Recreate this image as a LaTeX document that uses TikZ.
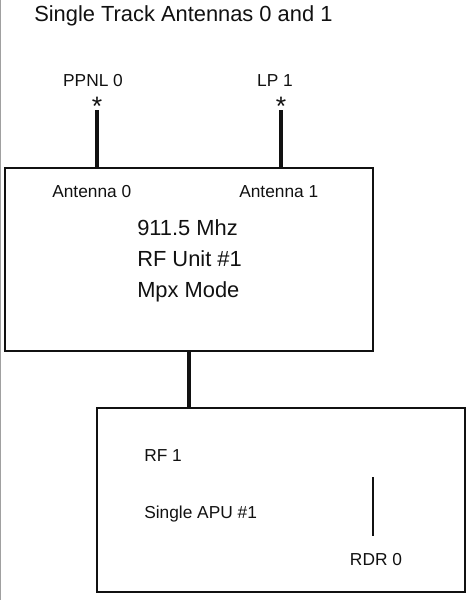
\documentclass[tikz,border=0pt]{standalone}
\usepackage{fontspec}
\setmainfont{Liberation Sans}
\usetikzlibrary{positioning,calc}
\definecolor{ink}{HTML}{111111}
\definecolor{edgegray}{HTML}{A0A0A0}
\newcommand{\titlesize}{\fontsize{16.4}{22.9}\selectfont}
\newcommand{\labelsize}{\fontsize{13}{16}\selectfont}
\newcommand{\starsize}{\fontsize{20}{24}\selectfont}
\tikzset{
  unitbox/.style={draw=ink,line width=1.5pt,inner sep=0pt,rectangle},
  bigtext/.style={font=\titlesize,text=ink,inner sep=0pt,align=left},
  smalltext/.style={font=\labelsize,text=ink,inner sep=0pt},
  starmark/.style={font=\starsize,text=ink,inner sep=0pt},
  antline/.style={draw=ink,line width=2.6pt},
  linkline/.style={draw=ink,line width=2.6pt},
  rdrline/.style={draw=ink,line width=2.2pt}
}
\begin{document}
\begin{tikzpicture}[x=0.75pt,y=-0.75pt]
    \path[use as bounding box] (0,0) rectangle (473,600);
    \draw[edgegray,line width=1.2pt] (0.6,0) -- (0.6,600);
    \node[bigtext,anchor=base west] (title) at (34,21.5)
      {Single Track Antennas 0 and 1};
    % antennas on top
    \node[smalltext,anchor=base] (ppnl) at (93,86.7) {PPNL 0};
    \node[smalltext,anchor=base] (lp) at (275,86.7) {LP 1};
    \node[starmark,anchor=base] (star0) at (97,115) {*};
    \node[starmark,anchor=base] (star1) at (281,115) {*};
    \coordinate (ant0) at (97,110);
    \coordinate (ant1) at (281,110);
    % RF unit box
    \node[unitbox,minimum width=276pt,minimum height=137.25pt] (rfbox)
      at (189,259.5) {};
    \node[smalltext,anchor=base west] (antzero) at (52,197) {Antenna 0};
    \node[smalltext,anchor=base west] (antone) at (239,197) {Antenna 1};
    \node[bigtext,anchor=base west] (rfdesc) at (137,297)
      {911.5 Mhz\\RF Unit \#1\\Mpx Mode};
    \draw[antline] (ant0) -- (ant0 |- rfbox.north);
    \draw[antline] (ant1) -- (ant1 |- rfbox.north);
    % APU box
    \node[unitbox,minimum width=276pt,minimum height=138pt] (apubox)
      at (281,500) {};
    \draw[linkline] (rfbox.south) -- (rfbox.south |- apubox.north);
    \node[smalltext,anchor=base west] (rfone) at (144,461.7) {RF 1};
    \node[smalltext,anchor=base west] (apu) at (144,518) {Single APU \#1};
    \node[smalltext,anchor=base] (rdr) at (376,565) {RDR 0};
    \coordinate (rdrtop) at (373,477);
    \coordinate (rdrbot) at (373,536);
    \draw[rdrline] (rdrtop) -- (rdrbot);
  \end{tikzpicture}
\end{document}
